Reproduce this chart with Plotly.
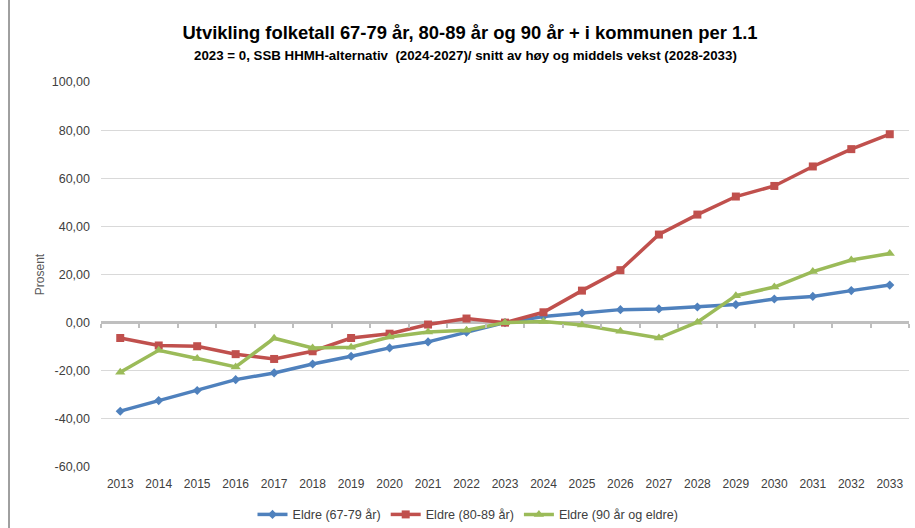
import plotly.graph_objects as go

years = [str(y) for y in range(2013, 2034)]
eldre_67_79 = [-36.8, -32.4, -28.2, -23.7, -20.9, -17.2, -14.0, -10.5, -8.0, -4.0, 0.0,
               2.5, 4.0, 5.4, 5.7, 6.5, 7.5, 9.8, 10.9, 13.3, 15.6]
eldre_80_89 = [-6.4, -9.5, -9.8, -13.1, -15.1, -11.9, -6.4, -4.6, -0.8, 1.7, 0.0,
               4.3, 13.3, 21.8, 36.6, 44.9, 52.4, 56.8, 64.9, 72.1, 78.3]
eldre_90 = [-20.6, -11.5, -14.9, -18.4, -6.5, -10.5, -10.2, -6.0, -3.9, -3.2, 0.0,
            0.5, -1.0, -3.6, -6.4, 0.2, 11.2, 14.8, 21.2, 26.0, 28.7]
y_ticks = [-60, -40, -20, 0, 20, 40, 60, 80, 100]
y_ticktext = ["-60,00", "-40,00", "-20,00", "0,00", "20,00", "40,00", "60,00", "80,00", "100,00"]

series = [
    ("Eldre (67-79 år)", eldre_67_79, "#4F81BD", "diamond", 7),
    ("Eldre (80-89 år)", eldre_80_89, "#C0504D", "square", 8),
    ("Eldre (90 år og eldre)", eldre_90, "#9BBB59", "triangle-up", 9),
]

fig = go.Figure()
for name, vals, col, sym, sz in series:
    fig.add_trace(go.Scatter(
        x=years, y=vals, name=name, mode="lines+markers",
        line=dict(color=col, width=3.5),
        marker=dict(symbol=sym, size=sz, color=col),
    ))

# invisible trace to carry categories on the tick-mark axis at the zero line
fig.add_trace(go.Scatter(x=years, y=[None] * len(years), xaxis="x2", yaxis="y",
                         showlegend=False, hoverinfo="skip", mode="lines"))

W, H = 915, 528
L, R, T, B = 101, 6, 82, 61
pw, ph = W - L - R, H - T - B
ymin, ymax = -60, 100

fig.update_layout(
    width=W, height=H,
    margin=dict(l=L, r=R, t=T, b=B, autoexpand=False),
    paper_bgcolor="white", plot_bgcolor="white",
    separators=", ",
    font=dict(family="Liberation Sans, Arial, sans-serif", size=12, color="#404040"),
    title=dict(
        text="<b>Utvikling folketall 67-79 år, 80-89 år og 90 år + i kommunen per 1.1</b>",
        x=470 / W, xanchor="center", y=1 - 33 / H, yanchor="middle",
        font=dict(size=18.4, color="black"),
    ),
    xaxis=dict(
        type="category", range=[-0.5, 20.5], automargin=False,
        showgrid=False, showline=False, zeroline=False,
        ticks="", ticklabelstandoff=8, tickfont=dict(size=12, color="#404040"),
    ),
    xaxis2=dict(
        type="category", range=[-0.5, 20.5], overlaying="x", anchor="free",
        position=(0 - ymin) / (ymax - ymin), side="bottom",
        tickson="boundaries", ticks="outside", ticklen=4, tickwidth=1.5,
        tickcolor="#BFBFBF", showticklabels=False, showgrid=False,
        showline=False, zeroline=False, automargin=False,
    ),
    yaxis=dict(
        range=[ymin, ymax], tickvals=y_ticks, ticktext=y_ticktext, automargin=False,
        showgrid=True, gridcolor="#D9D9D9", gridwidth=1,
        zeroline=True, zerolinecolor="#BFBFBF", zerolinewidth=3,
        showline=False, ticks="", ticklen=0,
        ticklabelstandoff=10,
        tickfont=dict(size=12.5, color="#404040"),
        title=dict(text="Prosent", font=dict(size=12, color="#595959"), standoff=4),
    ),
    legend=dict(
        orientation="h", x=(468 - L) / pw, xanchor="center", y=-0.085, yanchor="top",
        font=dict(size=12.6, color="#404040"), itemwidth=30,
    ),
    showlegend=True,
)

fig.add_annotation(
    text="<b>2023 = 0, SSB HHMH-alternativ  (2024-2027)/ snitt av høy og middels vekst (2028-2033)</b>",
    xref="paper", yref="paper", x=(465 - L) / pw, xanchor="center",
    y=(H - B - 55) / ph, yanchor="middle", showarrow=False,
    font=dict(size=13.3, color="black"),
)

# left border line of the chart area
fig.add_shape(type="line", xref="paper", yref="paper",
              x0=(9 - L) / pw, x1=(9 - L) / pw, y0=-B / ph, y1=1 + T / ph,
              line=dict(color="#404040", width=1))

fig.write_html("out.html", config={"displayModeBar": False},
               post_script="document.body.style.margin='0px';document.body.style.overflow='hidden';")
